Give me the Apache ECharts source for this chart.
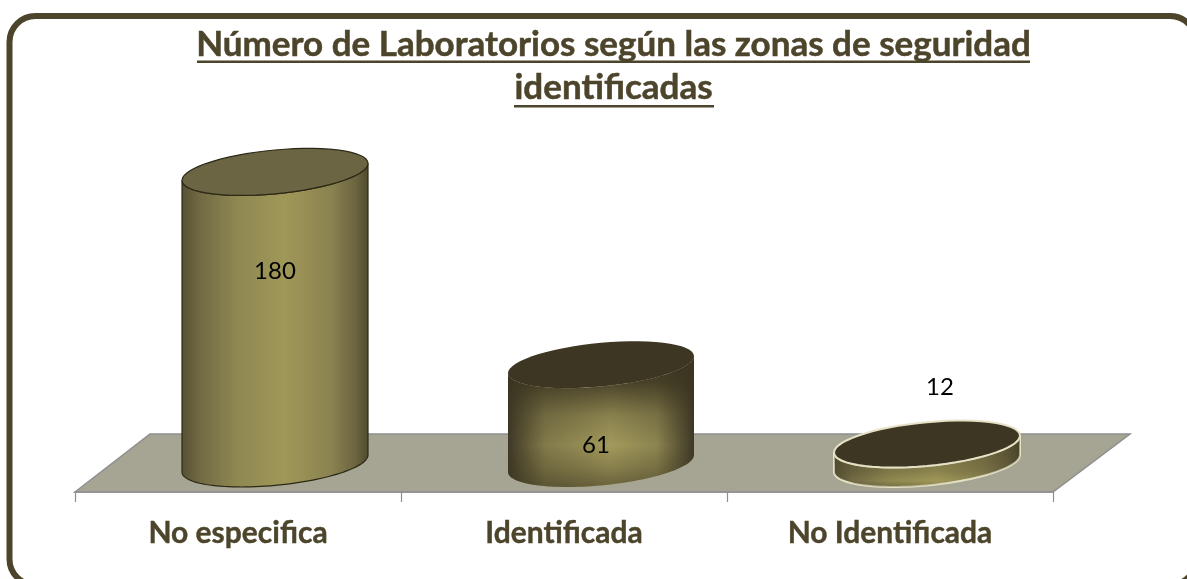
<!DOCTYPE html>
<html><head><meta charset="utf-8">
<style>html,body{margin:0;padding:0;background:#fff}#c{width:1187px;height:579px}</style>
<script src="https://cdn.jsdelivr.net/npm/echarts@6/dist/echarts.min.js"></script>
</head><body><div id="c"></div>
<script>
const categories = ['No especifica', 'Identificada', 'No Identificada'];
const values = [180, 61, 12];
const titleLines = ['Número de Laboratorios según las zonas de seguridad', 'identificadas'];

const DARK = '#4c452b', FONT = 'Lato, Carlito, sans-serif';
const cylStops = [[0,'#565033'],[.1,'#716a44'],[.3,'#8f8851'],[.55,'#a09858'],[.8,'#8a8250'],[.93,'#6c6540'],[1,'#4f4a2e']];
const looks = [
  {top:'#6b6543', edge:'#2b2815', lw:1.2, h:cylStops, shade:null},
  {top:'#3d3623', edge:null, lw:0, h:[[0,'#3d3825'],[.2,'#827a4a'],[.55,'#a39a5c'],[.8,'#8c8450'],[1,'#3d3825']],
    shade:[[0,.95],[.2,.85],[.45,.25],[.68,0],[.85,.25],[1,.55]]},
  {top:'#3d3623', edge:'#e6e2c6', lw:2, h:cylStops, shade:[[0,.5],[.7,.2],[.88,0],[1,.3]]}
];
const labelShift = [[0,99],[-5,81],[13,-57]];
const xShift = 37, rx = 93, tilt = 8.5, ryk = 21.9;

function ringPts(cx, cy, from, to) {
  const pts = [], n = 60;
  for (let i = 0; i <= n; i++) {
    const t = from + (to - from) * i / n;
    pts.push([cx + rx * Math.cos(t), cy - tilt * Math.cos(t) + ryk * Math.sin(t)]);
  }
  return pts;
}
function renderCyl(params, api) {
  const i = params.dataIndex, L = looks[i];
  const top = api.coord([api.value(0), api.value(1)]);
  const base = api.coord([api.value(0), 0]);
  const cx = top[0] + xShift;
  const side = ringPts(cx, base[1], 0, Math.PI).concat(ringPts(cx, top[1], Math.PI, 0));
  const hGrad = new echarts.graphic.LinearGradient(0,0,1,0,L.h.map(s=>({offset:s[0],color:s[1]})));
  const children = [
    {type:'polygon',shape:{points:side},style:{fill:hGrad,stroke:L.edge,lineWidth:L.lw}}
  ];
  if (L.shade) {
    children.push({type:'polygon',shape:{points:side},style:{fill:new echarts.graphic.LinearGradient(0,0,0,1,
      L.shade.map(s=>({offset:s[0],color:'rgba(58,52,32,'+s[1]+')'})))}});
  }
  children.push({type:'polygon',shape:{points:ringPts(cx, top[1], 0, 2*Math.PI)},
    style:{fill:L.top,stroke:L.edge,lineWidth:L.lw}});
  children.push({type:'text',x:cx+labelShift[i][0],y:top[1]+labelShift[i][1],
    style:{text:String(api.value(1)),fill:'#000',font:'24px '+FONT,textAlign:'center',textVerticalAlign:'middle'}});
  return {type:'group',children};
}
const chart = echarts.init(document.getElementById('c'), null, {renderer:'canvas'});
chart.setOption({
  animation:false,
  backgroundColor:'#fff',
  title:{show:false},
  grid:{left:75,right:134,top:139.5,bottom:115.5},
  xAxis:{type:'category',data:categories,offset:28.5,
    axisLine:{onZero:false,lineStyle:{color:'#8e8e8e',width:1.5}},
    axisTick:{show:true,length:10,lineStyle:{color:'#8e8e8e',width:1.2}},
    axisLabel:{color:DARK,fontFamily:FONT,fontWeight:'bold',fontSize:30,margin:26,textBorderColor:DARK,textBorderWidth:.4},
    splitLine:{show:false}},
  yAxis:{type:'value',min:0,max:200,show:false},
  graphic:[
    {type:'rect',z:0,shape:{x:9.5,y:16,width:1186.5,height:569,r:26},style:{fill:'#fff',stroke:DARK,lineWidth:6}},
    {type:'polygon',z:1,shape:{points:[[75,492],[150,434],[1130,434],[1053,492]]},style:{fill:'#a6a594',stroke:'#8e8e8e',lineWidth:1.5}},
    {type:'text',z:3,x:613.5,y:45,style:{text:titleLines[0],fill:DARK,stroke:DARK,lineWidth:.5,font:'bold 35px '+FONT,textAlign:'center',textVerticalAlign:'middle'}},
    {type:'text',z:3,x:613.5,y:88,style:{text:titleLines[1],fill:DARK,stroke:DARK,lineWidth:.5,font:'bold 35px '+FONT,textAlign:'center',textVerticalAlign:'middle'}},
    {type:'rect',z:3,shape:{x:197,y:60.5,width:833,height:2.5},style:{fill:DARK}},
    {type:'rect',z:3,shape:{x:514,y:105,width:200,height:2.5},style:{fill:DARK}}
  ],
  series:[{type:'custom',coordinateSystem:'cartesian2d',z:5,clip:false,
    data:values.map((v,i)=>[i,v]),encode:{x:0,y:1},renderItem:renderCyl}]
});
</script></body></html>
